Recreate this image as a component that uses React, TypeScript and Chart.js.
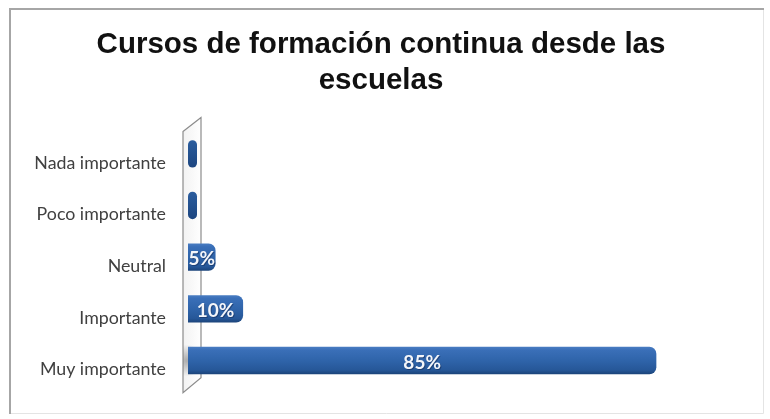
import React, { useEffect, useRef } from "react";
import { Chart, registerables } from "chart.js";

Chart.register(...registerables);

const categories = ["Nada importante", "Poco importante", "Neutral", "Importante", "Muy importante"];
const values = [0, 0, 5, 10, 85];
const valueLabels = ["", "", "5%", "10%", "85%"];
const titleLines = ["Cursos de formación continua desde las", "escuelas"];

const BAR_PCT = 0.53;

const framePlugin = {
  id: "frame",
  beforeDraw(chart: any) {
    const ctx = chart.ctx;
    ctx.save();
    ctx.fillStyle = "#ffffff";
    ctx.fillRect(0, 0, chart.width, chart.height);
    ctx.strokeStyle = "#e4e4e4";
    ctx.lineWidth = 1;
    ctx.beginPath();
    ctx.moveTo(763.5, 8);
    ctx.lineTo(763.5, 413.5);
    ctx.lineTo(9, 413.5);
    ctx.stroke();
    ctx.strokeStyle = "#a6a6a6";
    ctx.lineWidth = 2;
    ctx.beginPath();
    ctx.moveTo(10, 414);
    ctx.lineTo(10, 9);
    ctx.lineTo(764, 9);
    ctx.stroke();
    ctx.restore();
  },
};

const wallPlugin = {
  id: "wall",
  beforeDatasetsDraw(chart: any) {
    const { left, top, bottom } = chart.chartArea;
    const ctx = chart.ctx;
    ctx.save();
    ctx.beginPath();
    ctx.moveTo(left - 5, top + 3.5);
    ctx.lineTo(left + 13, top - 10.5);
    ctx.lineTo(left + 13, bottom - 8.5);
    ctx.lineTo(left - 5, bottom + 6.5);
    ctx.closePath();
    const g = ctx.createLinearGradient(left - 5, 0, left + 13, 0);
    g.addColorStop(0, "#f2f2f2");
    g.addColorStop(1, "#ffffff");
    ctx.fillStyle = g;
    ctx.fill();
    ctx.strokeStyle = "#8c8c8c";
    ctx.lineWidth = 1.2;
    ctx.stroke();
    const meta = chart.getDatasetMeta(0);
    const el = meta.data[meta.data.length - 1];
    if (el) {
      const rg = ctx.createRadialGradient(left - 1, el.y, 1, left - 1, el.y, 16);
      rg.addColorStop(0, "rgba(120,120,120,0.55)");
      rg.addColorStop(1, "rgba(120,120,120,0)");
      ctx.fillStyle = rg;
      ctx.fillRect(left - 5, el.y - 18, 12, 36);
    }
    ctx.restore();
  },
};

const labelPlugin = {
  id: "valueLabels",
  afterDatasetsDraw(chart: any) {
    const ctx = chart.ctx;
    const meta = chart.getDatasetMeta(0);
    ctx.save();
    ctx.font = "bold 19px Lato, 'Open Sans', sans-serif";
    ctx.textAlign = "center";
    ctx.textBaseline = "middle";
    meta.data.forEach((el: any, i: number) => {
      const txt = valueLabels[i];
      if (!txt) return;
      const cx = (el.base + el.x) / 2;
      ctx.fillStyle = "rgba(20,40,80,0.5)";
      ctx.fillText(txt, cx + 1, el.y + 3);
      ctx.fillStyle = "#f4f6fa";
      ctx.fillText(txt, cx, el.y + 2);
    });
    ctx.restore();
  },
};

function barFill(c: any) {
  const chart = c.chart;
  const area = chart.chartArea;
  const y = chart.scales && chart.scales.y;
  if (!area || !y) return "#2e63a9";
  const center = y.getPixelForValue(c.dataIndex);
  const half = ((area.bottom - area.top) / categories.length) * BAR_PCT / 2;
  const g = chart.ctx.createLinearGradient(0, center - half, 0, center + half);
  if (values[c.dataIndex] === 0) {
    g.addColorStop(0, "#2b5d9e");
    g.addColorStop(1, "#1d4680");
    return g;
  }
  g.addColorStop(0, "#4a7dc2");
  g.addColorStop(0.12, "#3a6fb8");
  g.addColorStop(0.5, "#2f64aa");
  g.addColorStop(0.85, "#265798");
  g.addColorStop(1, "#1b4379");
  return g;
}

export default function App() {
  const ref = useRef<HTMLCanvasElement>(null);

  useEffect(() => {
    if (!ref.current) return;
    const chart = new Chart(ref.current, {
      type: "bar",
      data: {
        labels: categories,
        datasets: [
          {
            data: values,
            backgroundColor: barFill as any,
            borderWidth: 0,
            borderRadius: 7,
            borderSkipped: ((c: any) => (values[c.dataIndex] === 0 ? false : "start")) as any,
            minBarLength: 9,
            barPercentage: BAR_PCT,
            categoryPercentage: 1,
          },
        ],
      },
      options: {
        indexAxis: "y",
        animation: false,
        responsive: false,
        layout: { padding: { top: 0, left: 23, right: 31, bottom: 25.5 } },
        plugins: {
          legend: { display: false },
          tooltip: { enabled: false },
          title: {
            display: true,
            text: titleLines,
            color: "#111111",
            font: { family: "'Liberation Sans', Arial, sans-serif", size: 29.5, weight: "bold", lineHeight: 36 / 29.5 },
            padding: { top: 27, bottom: 29 },
          },
        },
        scales: {
          x: { display: false, min: 0, max: 100 },
          y: {
            grid: { display: false, drawTicks: false },
            border: { display: false },
            ticks: {
              color: "#404040",
              font: { family: "Lato, 'Open Sans', sans-serif", size: 17.8 },
              padding: 22,
              labelOffset: 9,
            },
            afterFit(scale: any) {
              scale.width = 165;
            },
          },
        },
      },
      plugins: [framePlugin, wallPlugin, labelPlugin],
    });
    return () => chart.destroy();
  }, []);

  return (
    <div style={{ position: "absolute", left: 0, top: 0, width: 770, height: 419 }}>
      <canvas ref={ref} width={770} height={419} style={{ display: "block" }} />
    </div>
  );
}
